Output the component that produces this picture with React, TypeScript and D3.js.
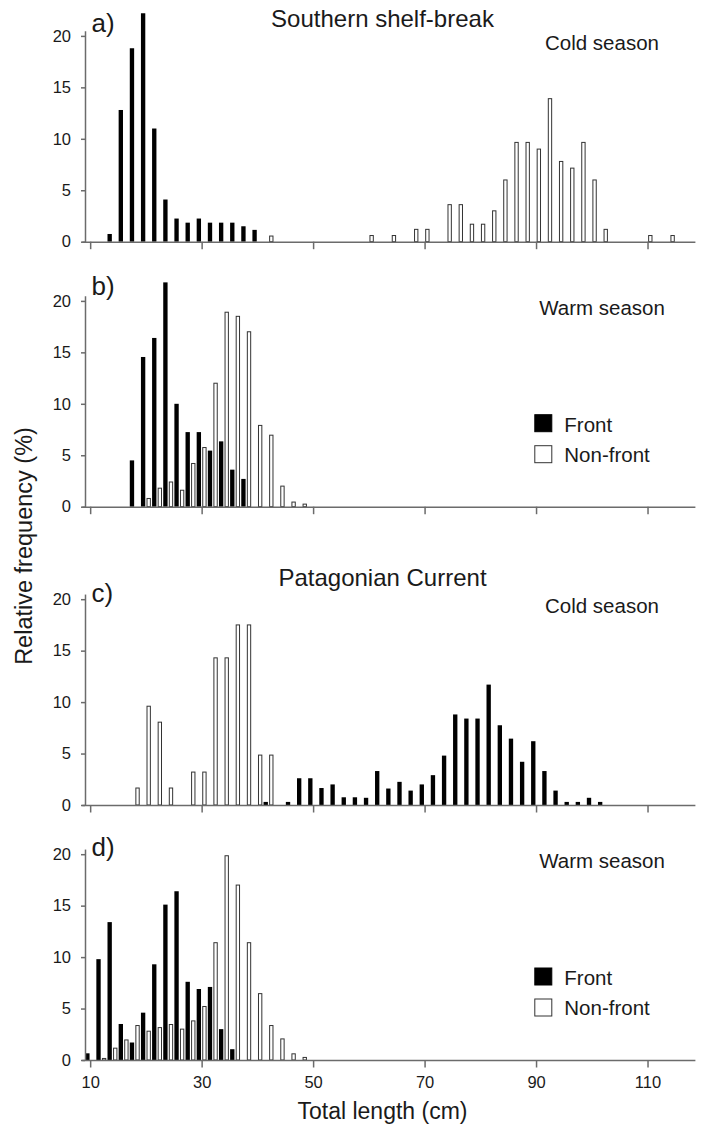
import React, { useEffect, useRef } from 'react'
import * as d3 from 'd3'

// length classes are 2 cm wide, values are % of fish per class

// a) Southern shelf-break, cold season
const aFrontBins = [14, 16, 18, 20, 22, 24, 26, 28, 30, 32, 34, 36, 38, 40]
const aFrontPct = [0.75, 12.8, 18.8, 22.2, 11.0, 4.1, 2.25, 1.85, 2.25, 1.85, 1.85, 1.85, 1.5, 1.15]
const aNonBins = [42, 60, 64, 68, 70, 74, 76, 78, 80, 82, 84, 86, 88, 90, 92, 94, 96, 98, 100, 102, 110, 114]
const aNonPct = [0.55, 0.6, 0.6, 1.2, 1.2, 3.6, 3.6, 1.7, 1.7, 3.0, 6.0, 9.65, 9.65, 9.0, 13.9, 7.8, 7.15, 9.65, 6.0, 1.2, 0.6, 0.6]

// b) Southern shelf-break, warm season
const bFrontBins = [18, 20, 22, 24, 26, 28, 30, 32, 34, 36, 38]
const bFrontPct = [4.5, 14.55, 16.4, 21.8, 10.0, 7.25, 7.25, 5.45, 6.35, 3.6, 2.7]
const bNonBins = [20, 22, 24, 26, 28, 30, 32, 34, 36, 38, 40, 42, 44, 46, 48]
const bNonPct = [0.8, 1.8, 2.4, 1.6, 4.2, 5.75, 12.0, 18.9, 18.5, 17.0, 7.9, 6.95, 2.0, 0.45, 0.25]

// c) Patagonian Current, cold season
const cFrontBins = [42, 46, 48, 50, 52, 54, 56, 58, 60, 62, 64, 66, 68, 70, 72, 74, 76, 78, 80, 82, 84, 86, 88, 90, 92, 94, 96, 98, 100, 102]
const cFrontPct = [0.3, 0.3, 2.6, 2.6, 1.65, 2.0, 0.75, 0.75, 0.7, 3.3, 1.6, 2.25, 1.4, 2.0, 2.9, 4.8, 8.8, 8.4, 8.4, 11.7, 7.75, 6.45, 4.2, 6.2, 3.3, 1.4, 0.3, 0.3, 0.7, 0.3]
const cNonBins = [18, 20, 22, 24, 28, 30, 32, 34, 36, 38, 40, 42]
const cNonPct = [1.65, 9.6, 8.05, 1.65, 3.2, 3.2, 14.3, 14.3, 17.5, 17.5, 4.85, 4.85]

// d) Patagonian Current, warm season
const dFrontBins = [10, 12, 14, 16, 18, 20, 22, 24, 26, 28, 30, 32, 34, 36]
const dFrontPct = [0.65, 9.8, 13.4, 3.5, 1.7, 4.6, 9.3, 15.1, 16.4, 7.6, 6.9, 7.1, 3.0, 1.05]
const dNonBins = [12, 14, 16, 18, 20, 22, 24, 26, 28, 30, 32, 34, 36, 38, 40, 42, 44, 46, 48]
const dNonPct = [0.15, 1.15, 1.95, 3.35, 2.8, 3.15, 3.45, 3.0, 3.8, 5.2, 11.4, 19.85, 17.0, 11.4, 6.45, 3.35, 2.05, 0.6, 0.25]

const yTicks = [0, 5, 10, 15, 20]
const xTicks = [10, 30, 50, 70, 90, 110]
const legendLabels = ['Front', 'Non-front']

const panels = [
  { tag: 'a)', title: 'Southern shelf-break', season: 'Cold season', legend: false, frontBins: aFrontBins, front: aFrontPct, nonBins: aNonBins, non: aNonPct },
  { tag: 'b)', title: '', season: 'Warm season', legend: true, frontBins: bFrontBins, front: bFrontPct, nonBins: bNonBins, non: bNonPct },
  { tag: 'c)', title: 'Patagonian Current', season: 'Cold season', legend: false, frontBins: cFrontBins, front: cFrontPct, nonBins: cNonBins, non: cNonPct },
  { tag: 'd)', title: '', season: 'Warm season', legend: true, frontBins: dFrontBins, front: dFrontPct, nonBins: dNonBins, non: dNonPct }
]

// layout
const W = 701
const H = 1128
const baselines = [241.7, 506.7, 805, 1060]
const tagY = [31.5, 295, 602, 855.5]
const titleY = [27.3, 0, 586, 0]
const pxPerUnit = 10.29
const axisColor = '#6b6b6b'
const textColor = '#1a1a1a'
const font = '"Liberation Sans", Arial, Helvetica, sans-serif'

export default function App () {
  const ref = useRef<SVGSVGElement>(null)

  useEffect(() => {
    const svg = d3.select(ref.current)
    svg.selectAll('*').remove()

    const x = d3.scaleLinear().domain([8.5, 118.5]).range([81.8, 694.9])
    const barW = x(0.78) - x(0)

    panels.forEach((p, i) => {
      const y0 = baselines[i]
      const y = d3.scaleLinear().domain([0, 20.5]).range([y0, y0 - 20.5 * pxPerUnit])
      const g = svg.append('g')

      // non-front (open) bars first, front bars on top
      const nonData = p.nonBins.map((b, k) => ({ bin: b, v: p.non[k] }))
      const frontData = p.frontBins.map((b, k) => ({ bin: b, v: p.front[k] }))

      g.selectAll('.non')
        .data(nonData)
        .enter()
        .append('rect')
        .attr('class', 'non')
        .attr('x', d => x(d.bin + 0.5) - barW / 2 + 0.5)
        .attr('y', d => y(d.v))
        .attr('width', barW - 1)
        .attr('height', d => y0 - y(d.v))
        .attr('fill', '#fff')
        .attr('stroke', '#333')
        .attr('stroke-width', 1)

      g.selectAll('.front')
        .data(frontData)
        .enter()
        .append('rect')
        .attr('class', 'front')
        .attr('x', d => x(d.bin - 0.5) - barW / 2)
        .attr('y', d => y(d.v))
        .attr('width', barW)
        .attr('height', d => y0 - y(d.v))
        .attr('fill', '#000')

      // y axis
      const yAxis = g.append('g')
        .attr('transform', 'translate(85,0)')
        .call(
          d3.axisLeft(y)
            .tickValues(yTicks)
            .tickSize(4)
            .tickSizeOuter(0)
            .tickPadding(10)
            .tickFormat(d3.format('d'))
        )
      yAxis.selectAll('path, line').attr('stroke', axisColor).attr('stroke-width', 1.5)
      yAxis.selectAll('text')
        .attr('fill', textColor)
        .style('font-family', font)
        .style('font-size', '16.5px')

      // x axis
      const xAxis = g.append('g')
        .attr('transform', 'translate(0,' + y0 + ')')
        .call(
          d3.axisBottom(x)
            .tickValues(xTicks)
            .tickSize(7.5)
            .tickSizeOuter(0)
            .tickPadding(9)
            .tickFormat(i === panels.length - 1 ? d3.format('d') : () => '')
        )
      xAxis.selectAll('path, line').attr('stroke', axisColor).attr('stroke-width', 1.5)
      xAxis.selectAll('text')
        .attr('fill', textColor)
        .style('font-family', font)
        .style('font-size', '16.5px')

      // panel letter, title, season
      g.append('text')
        .attr('x', 91.5)
        .attr('y', tagY[i])
        .attr('fill', textColor)
        .style('font-family', font)
        .style('font-size', '26px')
        .text(p.tag)

      if (p.title) {
        g.append('text')
          .attr('x', 382.5)
          .attr('y', titleY[i])
          .attr('text-anchor', 'middle')
          .attr('fill', textColor)
          .style('font-family', font)
          .style('font-size', '24px')
          .text(p.title)
      }

      g.append('text')
        .attr('x', 602)
        .attr('y', y0 - 192)
        .attr('text-anchor', 'middle')
        .attr('fill', textColor)
        .style('font-family', font)
        .style('font-size', '20.5px')
        .text(p.season)

      if (p.legend) {
        legendLabels.forEach((lab, k) => {
          g.append('rect')
            .attr('x', 534.8)
            .attr('y', y0 - 92.5 + k * 31 + 0.5)
            .attr('width', 17)
            .attr('height', 17)
            .attr('fill', k === 0 ? '#000' : '#fff')
            .attr('stroke', k === 0 ? '#000' : '#333')
            .attr('stroke-width', 1)
          g.append('text')
            .attr('x', 564.3)
            .attr('y', y0 - 75 + k * 30)
            .attr('fill', textColor)
            .style('font-family', font)
            .style('font-size', '20.5px')
            .text(lab)
        })
      }
    })

    // axis titles
    svg.append('text')
      .attr('transform', 'translate(32,546) rotate(-90)')
      .attr('text-anchor', 'middle')
      .attr('fill', textColor)
      .style('font-family', font)
      .style('font-size', '23.5px')
      .text('Relative frequency (%)')

    svg.append('text')
      .attr('x', 382.5)
      .attr('y', 1119)
      .attr('text-anchor', 'middle')
      .attr('fill', textColor)
      .style('font-family', font)
      .style('font-size', '23px')
      .text('Total length (cm)')
  }, [])

  return (
    <svg
      ref={ref}
      width={W}
      height={H}
      style={{ position: 'absolute', left: 0, top: 0, background: '#fff', display: 'block' }}
    />
  )
}
